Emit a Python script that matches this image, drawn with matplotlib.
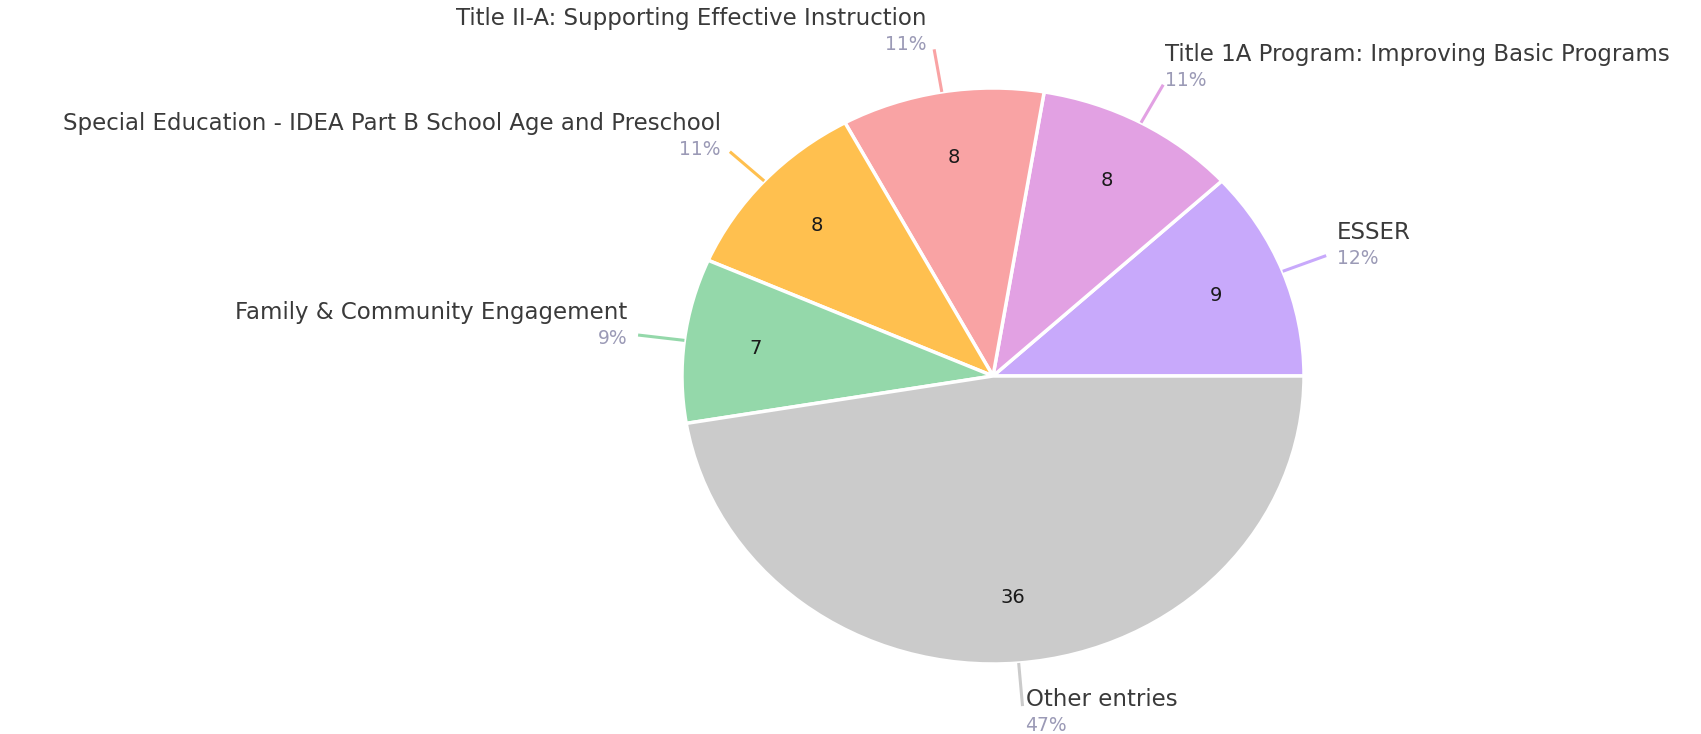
import numpy as np
import matplotlib.pyplot as plt

labels = ['ESSER', 'Title 1A Program: Improving Basic Programs',
          'Title II-A: Supporting Effective Instruction',
          'Special Education - IDEA Part B School Age and Preschool',
          'Family & Community Engagement', 'Other entries']
values = [9, 8, 8, 8, 7, 36]
colors = ['#c8a9fb', '#e2a1e3', '#f9a3a4', '#ffc04f', '#94d8aa', '#cbcbcb']

# label layout: (dx, dy) pixel offset of the percent line from the leader end, alignment
label_layout = [(11, -3, 'left'), (2, 4, 'left'), (-8, 5, 'right'),
                (-9, 2, 'right'), (-11, -3, 'right'), (3, -19, 'left')]

plt.rcParams['font.family'] = ['DejaVu Sans']

W, H = 1701, 734
fig = plt.figure(figsize=(W / 100, H / 100), dpi=100)
ax = fig.add_axes([0, 0, 1, 1])

total = sum(values)
wedges, texts, autotexts = ax.pie(
    values, colors=colors, startangle=0, counterclock=True,
    autopct=lambda p: f'{p * total / 100:.0f}', pctdistance=0.77,
    wedgeprops=dict(edgecolor='white', linewidth=2.5),
    textprops=dict(fontsize=14, color='#1a1a1a'))

# pie is slightly stretched horizontally in the reference
cx, cy, rx, ry = 993, 376, 311, 288
ax.set_aspect('auto')
ax.set_xlim(-cx / rx, (W - cx) / rx)
ax.set_ylim(-(H - cy) / ry, cy / ry)
ax.axis('off')

for w, lab, val, col, (dx, dy, ha) in zip(wedges, labels, values, colors, label_layout):
    ang = np.deg2rad((w.theta1 + w.theta2) / 2)
    x0, y0 = np.cos(ang), np.sin(ang)
    x1, y1 = 1.15 * x0, 1.15 * y0
    ax.plot([x0, x1], [y0, y1], color=col, lw=2.2, solid_capstyle='butt')
    pct = f'{100 * val / total:.0f}%'
    ax.annotate(pct, (x1, y1), xytext=(dx, dy), textcoords='offset pixels',
                ha=ha, va='center', fontsize=13.5, color='#9b9ab6')
    ax.annotate(lab, (x1, y1), xytext=(dx, dy + 26), textcoords='offset pixels',
                ha=ha, va='center', fontsize=16.5, color='#3a3a3a')

fig.savefig('out.png', dpi=100)
